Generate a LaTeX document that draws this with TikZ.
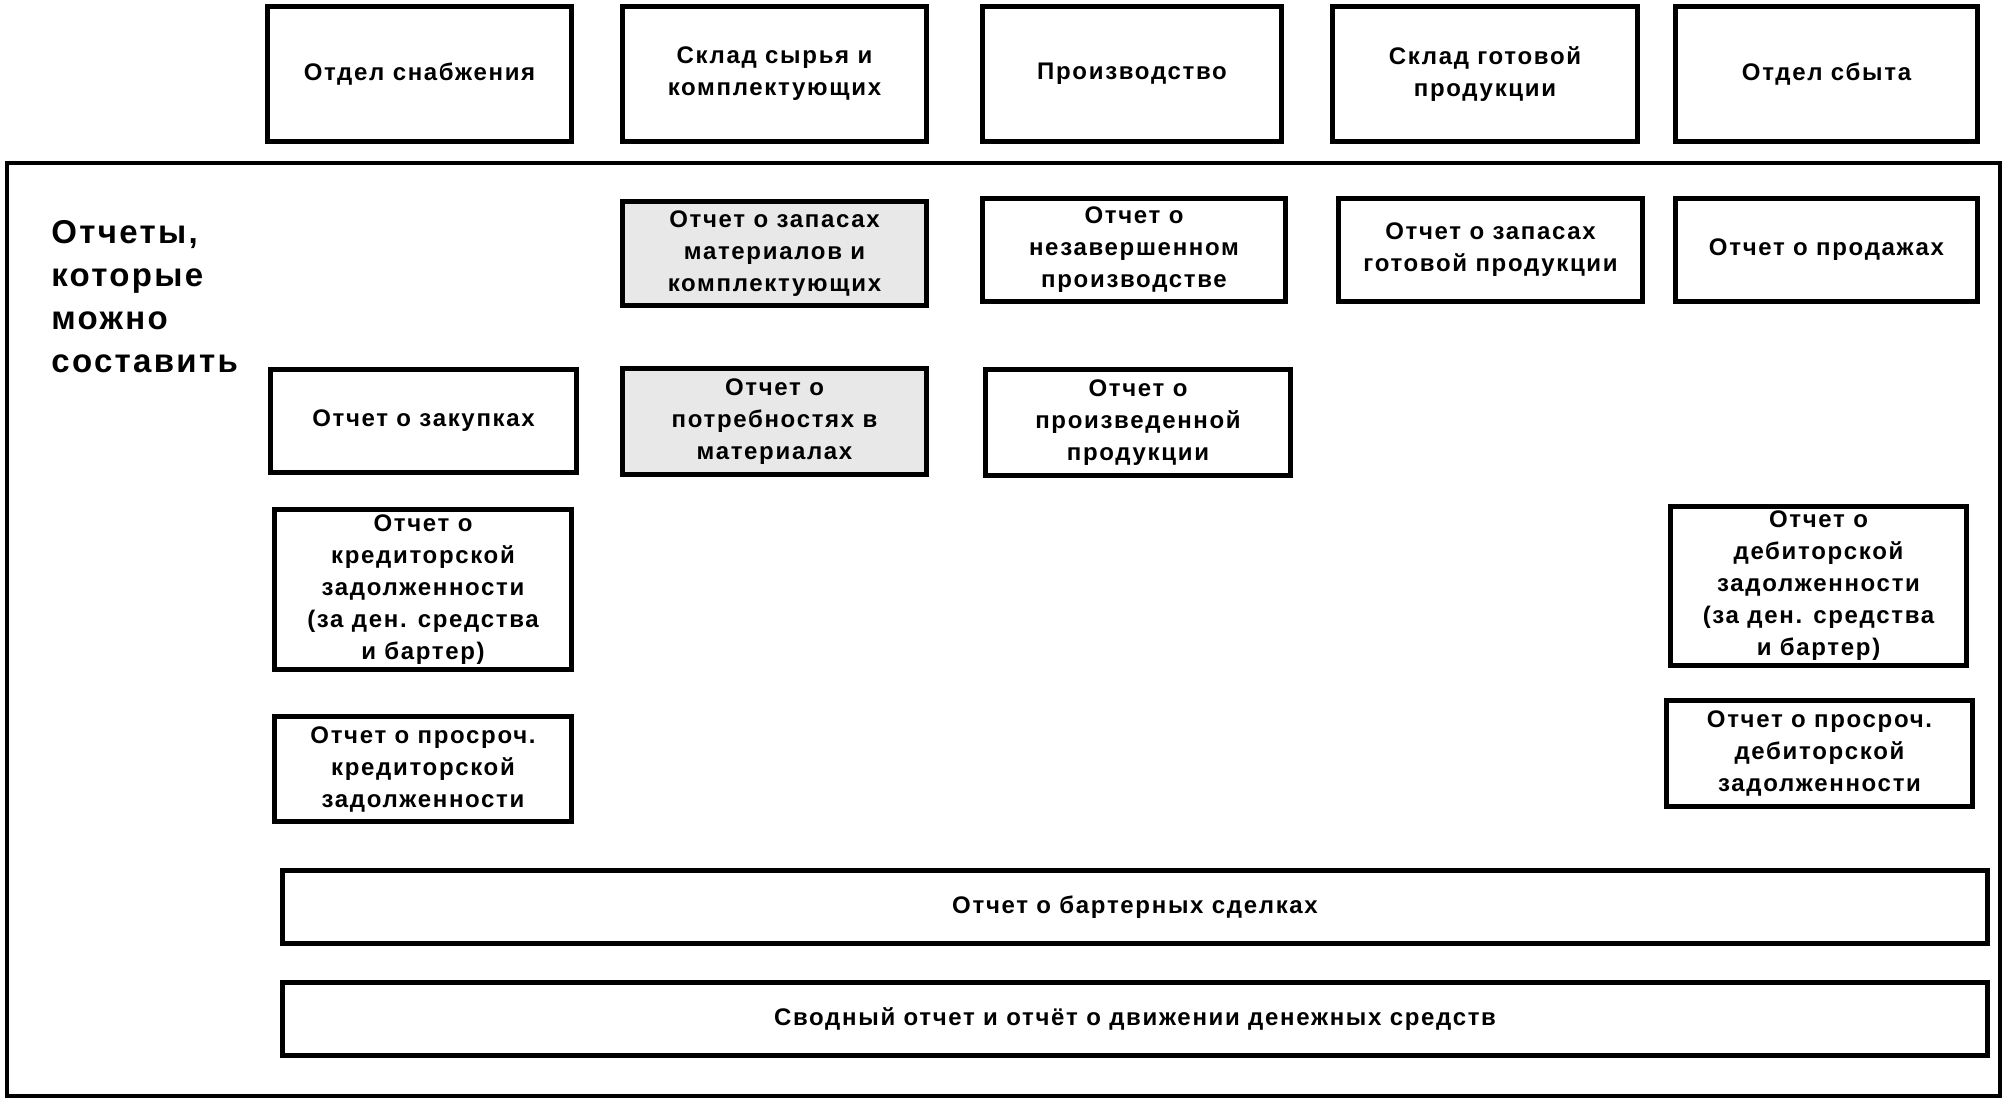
\documentclass[tikz,border=0pt]{standalone}
\usepackage{fontspec}
\setmainfont{Liberation Sans}[LetterSpace=7]
\begin{document}
\begin{tikzpicture}[x=0.5pt,y=-0.5pt,
  box/.style={draw, line width=2.4pt, align=center, inner sep=0pt,
    font=\fontsize{12pt}{16pt}\selectfont\bfseries},
  graybox/.style={box, fill=black!9},
  frame/.style={draw, line width=2.2pt}]
\useasboundingbox (0,0) rectangle (2004,1100);
% top row
\node[box, minimum width=152pt, minimum height=67.5pt] (t1) at (419.5,74) {Отдел снабжения};
\node[box, minimum width=152pt, minimum height=67.5pt] (t2) at (774.5,74) {Склад сырья и\\комплектующих};
\node[box, minimum width=149.5pt, minimum height=67.5pt] (t3) at (1132,74) {Производство};
\node[box, minimum width=152.5pt, minimum height=67.5pt] (t4) at (1485,74) {Склад готовой\\продукции};
\node[box, minimum width=151pt, minimum height=67.5pt] (t5) at (1826.5,74) {Отдел сбыта};
% frame
\draw[frame] (7,163) rectangle (2000,1096);
\node[anchor=north west, align=left, inner sep=0pt,
  font=\fontsize{16.5pt}{21.5pt}\selectfont\bfseries] (lbl) at (51,220)
  {Отчеты,\\которые\\можно\\составить};
% reports
\node[graybox, minimum width=152pt, minimum height=52pt] (r1) at (774.5,253.5) {Отчет о запасах\\материалов и\\комплектующих};
\node[box, minimum width=151.5pt, minimum height=51.5pt] (r2) at (1134,250) {Отчет о\\незавершенном\\производстве};
\node[box, minimum width=152pt, minimum height=51.5pt] (r3) at (1490.5,250) {Отчет о запасах\\готовой продукции};
\node[box, minimum width=151pt, minimum height=51.5pt] (r4) at (1826.5,250) {Отчет о продажах};
\node[box, minimum width=153pt, minimum height=51.5pt] (r5) at (423.5,421) {Отчет о закупках};
\node[graybox, minimum width=152pt, minimum height=53pt] (r6) at (774.5,421.5) {Отчет о\\потребностях в\\материалах};
\node[box, minimum width=152.5pt, minimum height=53pt] (r7) at (1138,422.5) {Отчет о\\произведенной\\продукции};
\node[box, minimum width=148.5pt, minimum height=80pt] (r8) at (423,589.5) {Отчет о\\кредиторской\\задолженности\\(за ден. средства\\и бартер)};
\node[box, minimum width=148pt, minimum height=79.5pt] (r9) at (1818.5,586) {Отчет о\\дебиторской\\задолженности\\(за ден. средства\\и бартер)};
\node[box, minimum width=148.5pt, minimum height=52.5pt] (r10) at (423,769) {Отчет о просроч.\\кредиторской\\задолженности};
\node[box, minimum width=153pt, minimum height=53pt] (r11) at (1819.5,753.5) {Отчет о просроч.\\дебиторской\\задолженности};
\node[box, minimum width=852.5pt, minimum height=36.5pt] (r12) at (1135,907) {Отчет о бартерных сделках};
\node[box, minimum width=852.5pt, minimum height=36.5pt] (r13) at (1135,1019) {Сводный отчет и отчёт о движении денежных средств};
\end{tikzpicture}
\end{document}
